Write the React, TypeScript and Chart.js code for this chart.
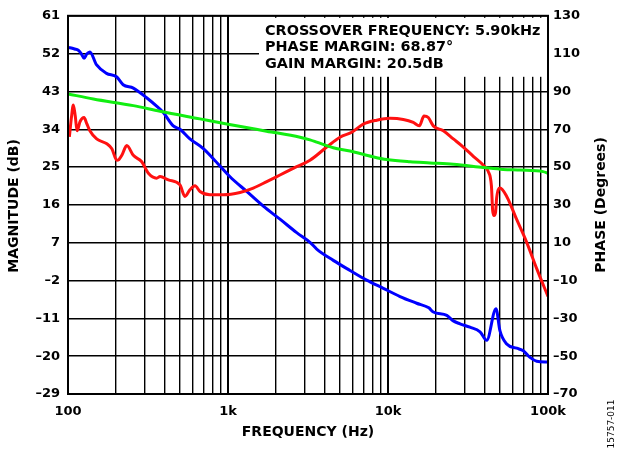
import React, { useEffect, useRef } from "react";
import { Chart, registerables } from "chart.js";

Chart.register(...registerables);

const W = 618;
const H = 451;
const FONT = '"DejaVu Sans", "Liberation Sans", sans-serif';

// Magnitude (dB), left axis
const magFreq = [100, 103, 110, 116, 121, 126, 131, 137, 151, 174, 201, 221, 256, 310, 358, 394, 455, 501, 578, 701, 809, 1029, 1309, 1662, 2113, 2687, 3254, 3584, 4551, 5788, 7359, 9346, 11885, 15101, 18000, 19200, 23300, 25600, 28200, 32500, 37600, 41400, 47300, 50100, 55200, 63700, 70100, 77200, 85000, 100000];
const magDb = [53.5, 53.4, 53.1, 52.8, 52.0, 50.9, 51.9, 52.4, 49.3, 47.3, 46.5, 44.6, 43.8, 41.5, 39.5, 38.0, 34.8, 34.0, 31.7, 29.4, 27.0, 22.7, 19.2, 15.7, 12.6, 9.4, 7.1, 5.5, 2.8, 0.4, -1.9, -3.85, -5.8, -7.4, -8.5, -9.5, -10.3, -11.6, -12.3, -13.1, -14.2, -16.2, -8.7, -14.0, -17.1, -18.1, -18.7, -20.3, -21.2, -21.4];

// Phase (degrees), right axis
const phaseFreq = [102, 105, 108, 111, 114, 119, 126, 131, 137, 151, 175, 188, 202, 208, 217, 233, 256, 289, 318, 358, 376, 424, 501, 538, 578, 622, 668, 772, 935, 1189, 1439, 1746, 2113, 2687, 3254, 4140, 5012, 5932, 7006, 8500, 10290, 12460, 14390, 15690, 16790, 17860, 19190, 22160, 25600, 29560, 34130, 39400, 42360, 44300, 45100, 46000, 47000, 47800, 50100, 55200, 63700, 73600, 85000, 100000];
const phaseDeg = [66, 76, 82.8, 77, 69.2, 74.1, 76.2, 73, 69.2, 64.9, 62.3, 59.7, 53.6, 54, 56.2, 61.4, 56.2, 52.8, 46.7, 44.1, 45.0, 43.2, 40.6, 34.5, 38.0, 40.1, 37.1, 35.4, 35.4, 36.6, 38.9, 42.3, 45.8, 50.2, 53.6, 60.6, 65.8, 68.4, 72.7, 74.8, 75.8, 75.2, 73.6, 71.8, 77.0, 76.2, 71.8, 69.2, 64.9, 60.6, 55.7, 51.0, 47.6, 40, 27, 24.4, 26, 34, 38.9, 34.5, 22.3, 10.2, -3.7, -18.4];

// Green trace, right axis
const refFreq = [100, 144, 256, 376, 668, 1000, 1740, 2818, 3254, 3584, 4551, 5788, 8110, 9810, 13740, 18307, 25600, 39400, 52500, 67100, 93200, 100000];
const refDeg = [88.7, 86.0, 82.5, 79.5, 75.5, 72.7, 69.0, 65.8, 64.4, 63.2, 60.2, 58.5, 55.4, 54.0, 52.8, 52.2, 51.5, 49.8, 48.75, 48.4, 47.6, 46.7];

const freqTicks = [100, 200, 300, 400, 500, 600, 700, 800, 900, 1000, 2000, 3000, 4000, 5000, 6000, 7000, 8000, 9000, 10000, 20000, 30000, 40000, 50000, 60000, 70000, 80000, 90000, 100000];
const freqLabels: Record<number, string> = { 100: "100", 1000: "1k", 10000: "10k", 100000: "100k" };
const magTicks = [-29, -20, -11, -2, 7, 16, 25, 34, 43, 52, 61];
const phaseTicks = [-70, -50, -30, -10, 10, 30, 50, 70, 90, 110, 130];
const annotationLines = ["CROSSOVER FREQUENCY: 5.90kHz", "PHASE MARGIN: 68.87°", "GAIN MARGIN: 20.5dB"];

const xTitle = "FREQUENCY (Hz)";
const yTitle = "MAGNITUDE (dB)";
const y1Title = "PHASE (Degrees)";
const figId = "15757-011";

const dash = (v: number) => String(v).replace("-", "\u2013");
const pts = (xs: number[], ys: number[]) => xs.map((x, i) => ({ x, y: ys[i] }));

const decor = {
  id: "decor",
  beforeDatasetsDraw(chart: any) {
    const { ctx, chartArea: a } = chart;
    const boxLeft = a.left + 191;
    ctx.save();
    ctx.fillStyle = "#fff";
    ctx.fillRect(boxLeft, a.top + 2, a.right - boxLeft - 1, 59);
    ctx.fillStyle = "#000";
    ctx.font = `bold 14.4px ${FONT}`;
    ctx.textBaseline = "middle";
    ctx.textAlign = "left";
    annotationLines.forEach((t, i) => ctx.fillText(t, boxLeft + 6, a.top + 15 + i * 16.7));
    ctx.restore();
  },
  afterDatasetsDraw(chart: any) {
    const { ctx, chartArea: a } = chart;
    ctx.save();
    ctx.strokeStyle = "#000";
    ctx.lineWidth = 2;
    ctx.strokeRect(a.left, a.top, a.right - a.left, a.bottom - a.top);
    ctx.restore();
  },
  afterDraw(chart: any) {
    const { ctx, chartArea: a } = chart;
    const midY = (a.top + a.bottom) / 2;
    ctx.save();
    ctx.fillStyle = "#000";
    ctx.font = `bold 14px ${FONT}`;
    ctx.textAlign = "center";
    ctx.textBaseline = "middle";
    ctx.fillText(xTitle, (a.left + a.right) / 2, 432);
    ctx.save();
    ctx.translate(14, midY + 1);
    ctx.rotate(-Math.PI / 2);
    ctx.fillText(yTitle, 0, 0);
    ctx.restore();
    ctx.save();
    ctx.translate(601, midY);
    ctx.rotate(-Math.PI / 2);
    ctx.fillText(y1Title, 0, 0);
    ctx.restore();
    ctx.save();
    ctx.font = `9px ${FONT}`;
    ctx.translate(612, 424);
    ctx.rotate(-Math.PI / 2);
    ctx.fillText(figId, 0, 0);
    ctx.restore();
    ctx.restore();
  },
};

export default function App() {
  const ref = useRef<HTMLCanvasElement>(null);
  useEffect(() => {
    const tickFont = { family: FONT, weight: "bold" as const, size: 13 };
    const chart = new Chart(ref.current!, {
      type: "line",
      data: {
        datasets: [
          { data: pts(refFreq, refDeg), yAxisID: "y1", borderColor: "#11ee11", borderWidth: 3, pointRadius: 0, cubicInterpolationMode: "monotone" },
          { data: pts(phaseFreq, phaseDeg), yAxisID: "y1", borderColor: "#ff1111", borderWidth: 3, pointRadius: 0, cubicInterpolationMode: "monotone" },
          { data: pts(magFreq, magDb), yAxisID: "y", borderColor: "#0000ff", borderWidth: 3, pointRadius: 0, cubicInterpolationMode: "monotone" },
        ],
      },
      options: {
        responsive: false,
        animation: false,
        devicePixelRatio: 1,
        layout: { padding: { top: 10, left: 0, right: 0, bottom: 0 } },
        plugins: { legend: { display: false }, tooltip: { enabled: false } },
        scales: {
          x: {
            type: "logarithmic",
            min: 100,
            max: 100000,
            afterBuildTicks: (s: any) => { s.ticks = freqTicks.map((value) => ({ value })); },
            afterFit: (s: any) => { s.height = 57; },
            ticks: { autoSkip: false, maxRotation: 0, padding: 10, color: "#000", font: tickFont, callback: (v: any) => freqLabels[Number(v)] ?? "" },
            grid: {
              color: "#000",
              drawTicks: false,
              lineWidth: (c: any) => { const v = c.tick?.value; return v && Math.abs(Math.log10(v) - Math.round(Math.log10(v))) < 1e-6 ? 2 : 1.4; },
            },
            border: { display: false },
          },
          y: {
            type: "linear",
            position: "left",
            min: -29,
            max: 61,
            afterBuildTicks: (s: any) => { s.ticks = magTicks.map((value) => ({ value })); },
            afterFit: (s: any) => { s.width = 68; },
            ticks: { padding: 8, color: "#000", font: tickFont, callback: (v: any) => dash(Number(v)) },
            grid: { color: "#000", lineWidth: 1.4, drawTicks: false },
            border: { display: false },
          },
          y1: {
            type: "linear",
            position: "right",
            min: -70,
            max: 130,
            afterBuildTicks: (s: any) => { s.ticks = phaseTicks.map((value) => ({ value })); },
            afterFit: (s: any) => { s.width = 70; },
            ticks: { padding: 5, color: "#000", font: tickFont, callback: (v: any) => dash(Number(v)) },
            grid: { drawOnChartArea: false, drawTicks: false },
            border: { display: false },
          },
        },
      },
      plugins: [decor],
    } as any);
    return () => chart.destroy();
  }, []);
  return (
    <div style={{ position: "fixed", left: 0, top: 0, width: W, height: H, background: "#fff" }}>
      <canvas ref={ref} width={W} height={H} style={{ display: "block", width: W, height: H }} />
    </div>
  );
}
